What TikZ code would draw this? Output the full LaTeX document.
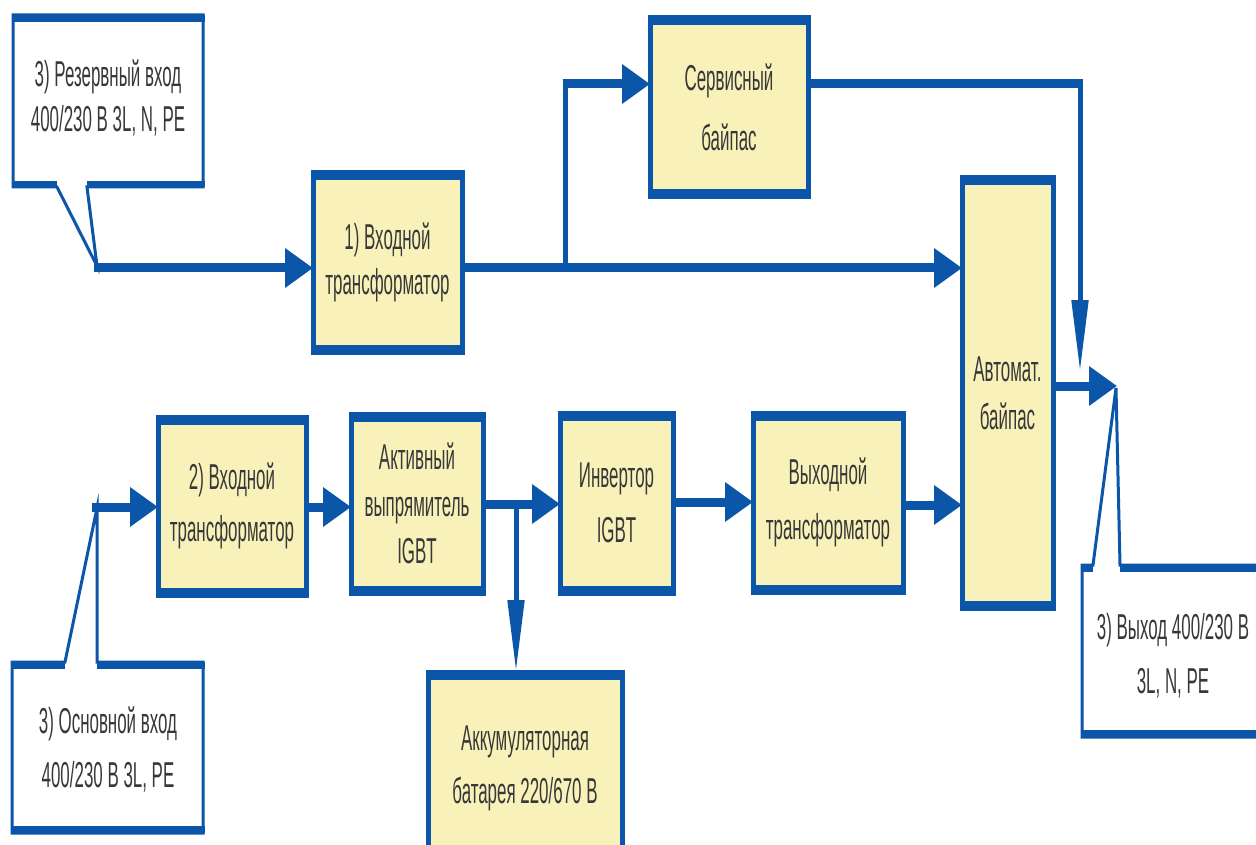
\documentclass[tikz,border=0pt]{standalone}
\usepackage{fontspec}
\setmainfont[FakeStretch=0.47]{Liberation Sans}
\usetikzlibrary{arrows.meta}
\definecolor{bl}{HTML}{0B56A8}
\definecolor{yl}{HTML}{F8F2BA}
\definecolor{tx}{HTML}{383838}
\begin{document}
\begin{tikzpicture}[x=1pt,y=-1pt,
  blk/.style={draw=bl, fill=yl, line width=5pt, inner sep=0pt, outer sep=0pt, align=center, text=tx, font=\fontsize{36}{#1}\selectfont},
  blk/.default=50,
  ctxt/.style={inner sep=0pt, align=center, text=tx, font=\fontsize{36}{#1}\selectfont},
  ctxt/.default=50,
  bar/.style={draw=bl, line width=10pt, shorten <=-2.5pt, shorten >=-2.5pt},
  call/.style={draw=bl, fill=white, line width=3pt, line join=miter},
  cbar/.style={draw=bl, line width=7pt},
  bigarr/.style={draw=bl, line width=9pt, -{Triangle[length=28pt,width=38pt]}},
  thinarr/.style={draw=bl, line width=5pt, -{Triangle[length=72pt,width=16pt]}},
  wire/.style={draw=bl, line width=9pt},
  thinwire/.style={draw=bl, line width=5pt}
]
\useasboundingbox (0,0) rectangle (1256,845);

% callout shapes
\coordinate (rin) at (94,268);
\coordinate (min) at (92,507);
\coordinate (oin) at (1117,386);
\draw[call] (13,15) -- (203,15) -- (203,187) -- (87,187) -- (97,266) -- (57,187) -- (13,187) -- cycle;
\draw[cbar] (11.5,18.5) -- (204.5,18.5);
\draw[cbar,line width=6pt] (11.5,184) -- (57,184) (87,184) -- (204.5,184);
\node[ctxt=45] (rct) at (108,98) {3) Резервный вход\\400/230 В 3L, N, PE};

\draw[call] (12,662) -- (65,662) -- (97,508) -- (97,662) -- (203,662) -- (203,833) -- (12,833) -- cycle;
\draw[cbar] (10.5,665.5) -- (65,665.5) (97,665.5) -- (204.5,665.5);
\draw[cbar] (10.5,829.5) -- (204.5,829.5);
\node[ctxt=54] (mct) at (108,749) {3) Основной вход\\400/230 В 3L, PE};

\draw[call] (1082,565) -- (1093,565) -- (1116,388) -- (1120,565) -- (1270,565) -- (1270,737) -- (1082,737) -- cycle;
\draw[cbar] (1080.5,568.5) -- (1093,568.5) (1120,568.5) -- (1270,568.5);
\draw[cbar] (1080.5,733.5) -- (1270,733.5);
\node[ctxt=54] (oct) at (1173,656) {3) Выход 400/230 В\\3L, N, PE};

% blocks
\node[blk=60, minimum width=158pt, minimum height=179pt] (sb) at (729,107.5) {Сервисный\\байпас};
\node[blk=45, minimum width=149pt, minimum height=179pt] (it1) at (387.5,262.5) {1) Входной\\трансформатор};
\node[blk=48, minimum width=91pt, minimum height=430pt] (ab) at (1007.5,393) {Автомат.\\байпас};
\node[blk=52, minimum width=148pt, minimum height=178pt] (it2) at (232,506) {2) Входной\\трансформатор};
\node[blk=47, minimum width=132pt, minimum height=179pt] (ar) at (417,503.5) {Активный\\выпрямитель\\IGBT};
\node[blk=55, minimum width=113pt, minimum height=180pt] (inv) at (616.5,503) {Инвертор\\IGBT};
\node[blk=55, minimum width=150pt, minimum height=179pt] (ot) at (828,502.5) {Выходной\\трансформатор};
\node[blk=53, minimum width=194pt, minimum height=192pt] (bat) at (525,768) {Аккумуляторная\\батарея 220/670 В};
\foreach \n in {sb,it1,ab,it2,ar,inv,ot,bat}{
  \draw[bar] ([yshift=-2.5pt]\n.north west) -- ([yshift=-2.5pt]\n.north east);
  \draw[bar] ([yshift=2.5pt]\n.south west) -- ([yshift=2.5pt]\n.south east);
}

% connectors
\draw[bigarr] (rin) -- (rin -| it1.west);
\draw[bigarr] (it1.east |- rin) -- (ab.west |- rin);
\coordinate (br1) at (565,268);
\coordinate (br1t) at (565,84);
\draw[thinwire] (br1) -- ([yshift=-4pt]br1t);
\draw[bigarr] ([xshift=-2.5pt]br1t) -- (br1t -| sb.west);
\coordinate (sbj) at (1080,84);
\draw[wire] (sb.east |- sbj) -- ([xshift=2.5pt]sbj);
\draw[thinarr] ([yshift=4pt]sbj) -- (1080,372);
\draw[bigarr] (ab.east |- oin) -- (oin);

\draw[bigarr] (min) -- (min -| it2.west);
\draw[bigarr] (it2.east |- 0,507) -- (ar.west |- 0,507);
\coordinate (br2) at (516,504);
\draw[bigarr] (ar.east |- br2) -- (inv.west |- br2);
\draw[thinarr] (br2) -- (br2 |- bat.north);
\draw[bigarr] (inv.east |- 0,502) -- (ot.west |- 0,502);
\draw[bigarr] (ot.east |- 0,505) -- (ab.west |- 0,505);
\end{tikzpicture}
\end{document}
